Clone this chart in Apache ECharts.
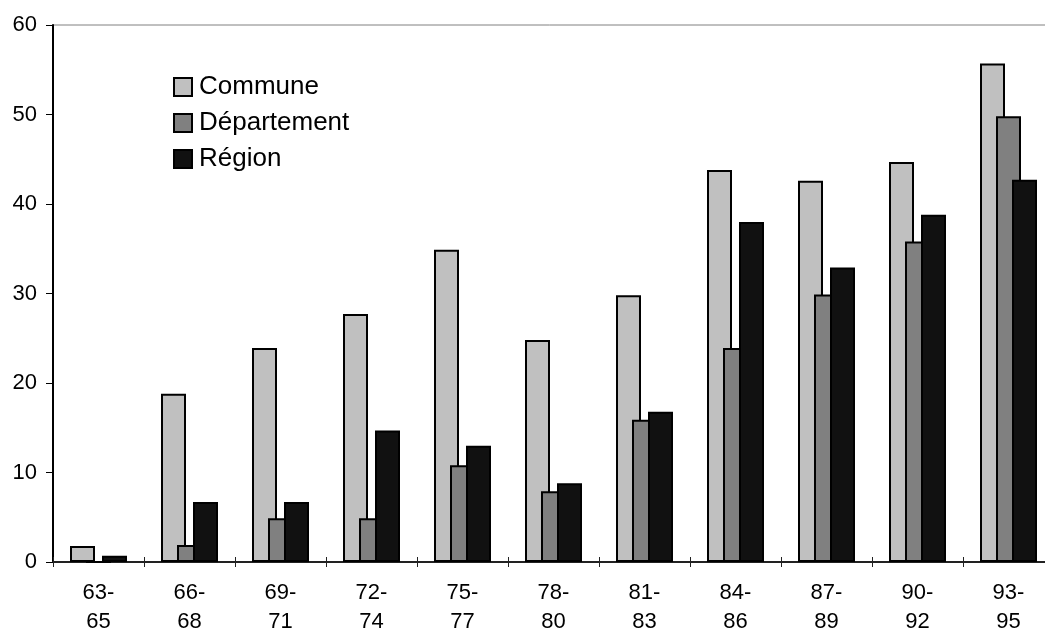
<!DOCTYPE html>
<html>
<head>
<meta charset="utf-8">
<script src="https://cdn.jsdelivr.net/npm/echarts@6/dist/echarts.min.js"></script>
<style>
html,body{margin:0;padding:0;background:#fff;}
#chart{width:1045px;height:630px;}
</style>
</head>
<body>
<div id="chart"></div>
<script>
const categories = ['63-65','66-68','69-71','72-74','75-77','78-80','81-83','84-86','87-89','90-92','93-95'];
const commune = [1.8, 18.8, 23.9, 27.7, 34.9, 24.8, 29.8, 43.8, 42.6, 44.7, 55.7];
const departement = [0, 1.9, 4.9, 4.9, 10.8, 7.9, 15.9, 23.9, 29.9, 35.8, 49.8];
const region = [0.7, 6.7, 6.7, 14.7, 13.0, 8.8, 16.8, 38.0, 32.9, 38.8, 42.7];
const seriesNames = ['Commune', 'Département', 'Région'];
const yTicks = {min: 0, max: 60, interval: 10};

const font = 'Liberation Sans, Arial, sans-serif';
const chart = echarts.init(document.getElementById('chart'), null, {renderer: 'canvas'});

function bar(name, data, color) {
  return {
    name: name,
    type: 'bar',
    data: data,
    barWidth: 25,
    barGap: '-36%',
    itemStyle: {color: color, borderColor: '#000', borderWidth: 2},
    emphasis: {disabled: true},
    animation: false
  };
}

chart.setOption({
  animation: false,
  backgroundColor: '#fff',
  textStyle: {fontFamily: font},
  grid: {left: 53, top: 25, width: 1001, height: 537, outerBoundsMode: 'none', containLabel: false,
         show: true, borderColor: '#808080', borderWidth: 1, backgroundColor: 'transparent'},
  legend: {
    orient: 'vertical',
    left: 173,
    top: 74,
    itemWidth: 18,
    itemHeight: 18,
    itemGap: 10,
    padding: 0,
    icon: 'rect',
    selectedMode: false,
    textStyle: {fontSize: 26, lineHeight: 26, color: '#000', fontFamily: font, padding: [0, 0, 0, 2]},
    data: seriesNames
  },
  xAxis: [{
    type: 'category',
    data: categories,
    axisLine: {lineStyle: {color: '#222', width: 2}},
    axisTick: {show: true, alignWithLabel: false, length: 5, lineStyle: {color: '#222'}},
    axisLabel: {
      fontSize: 22, color: '#000', fontFamily: font, margin: 16, lineHeight: 29,
      formatter: v => v.replace('-', '-\n')
    },
    splitLine: {show: false}
  }, {
    type: 'category',
    data: categories,
    position: 'bottom',
    axisLine: {show: false},
    axisTick: {show: true, inside: true, length: 5, lineStyle: {color: '#222'}},
    axisLabel: {show: false},
    splitLine: {show: false}
  }],
  yAxis: [{
    type: 'value',
    min: yTicks.min,
    max: yTicks.max,
    interval: yTicks.interval,
    axisLine: {show: true, lineStyle: {color: '#000', width: 2}},
    axisTick: {show: true, length: 7, lineStyle: {color: '#000'}},
    axisLabel: {fontSize: 22, color: '#000', fontFamily: font, margin: 16},
    splitLine: {show: false}
  }],
  series: [
    bar(seriesNames[0], commune, '#c0c0c0'),
    bar(seriesNames[1], departement, '#808080'),
    bar(seriesNames[2], region, '#111111')
  ]
});
</script>
</body>
</html>
